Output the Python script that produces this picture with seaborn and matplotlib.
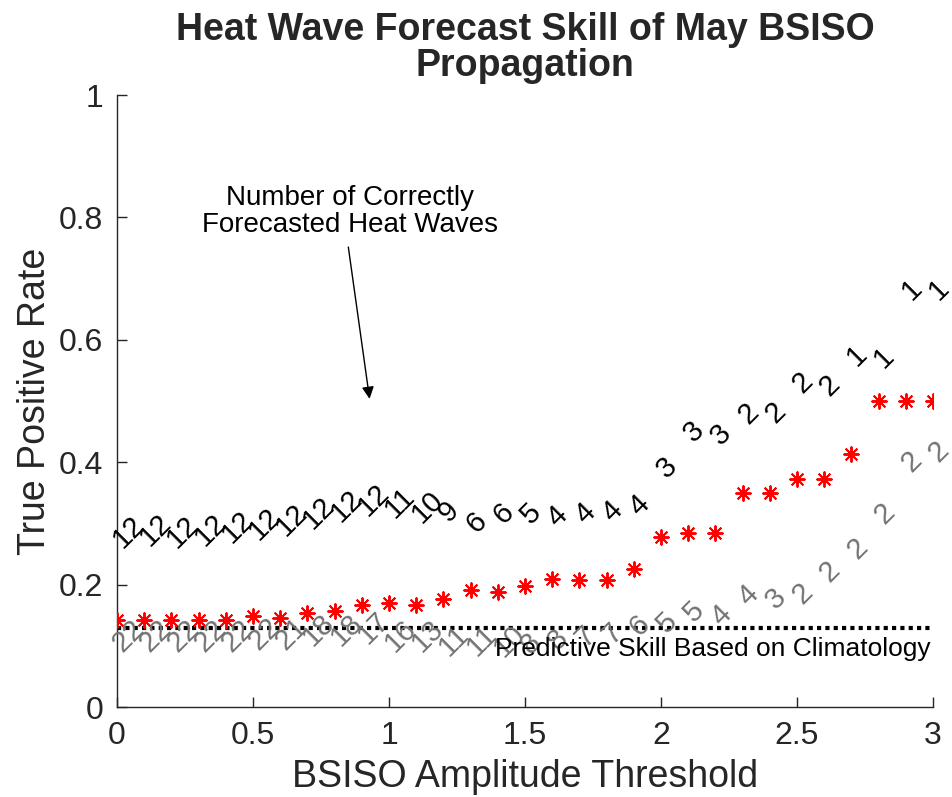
import matplotlib
matplotlib.use("Agg")
import matplotlib.pyplot as plt
import seaborn as sns
import pandas as pd

# ---- data ----
thresholds = [0.0, 0.1, 0.2, 0.3, 0.4, 0.5, 0.6, 0.7, 0.8, 0.9, 1.0,
              1.1, 1.2, 1.3, 1.4, 1.5, 1.6, 1.7, 1.8, 1.9, 2.0,
              2.1, 2.2, 2.3, 2.4, 2.5, 2.6, 2.7, 2.8, 2.9, 3.0]
tpr = [0.142, 0.142, 0.142, 0.142, 0.142, 0.149, 0.145, 0.154, 0.157, 0.167, 0.170,
       0.167, 0.177, 0.192, 0.188, 0.198, 0.209, 0.207, 0.207, 0.226, 0.278,
       0.284, 0.284, 0.349, 0.349, 0.373, 0.373, 0.413, 0.500, 0.500, 0.500]
n_correct = [12, 12, 12, 12, 12, 12, 12, 12, 12, 12, 11,
             10, 9, 6, 6, 5, 4, 4, 4, 4, 3,
             3, 3, 2, 2, 2, 2, 1, 1, 1, 1]
correct_label_y = [0.268, 0.270, 0.268, 0.270, 0.275, 0.281, 0.287, 0.298, 0.310, 0.320, 0.316,
                   0.309, 0.310, 0.292, 0.307, 0.307, 0.302, 0.307, 0.310, 0.319, 0.381,
                   0.440, 0.436, 0.470, 0.472, 0.520, 0.515, 0.565, 0.562, 0.672, 0.672]
n_other = [22, 22, 22, 22, 22, 22, 21, 18, 18, 17, 16,
           13, 11, 11, 10, 8, 8, 7, 7, 6, 5,
           5, 4, 4, 3, 2, 2, 2, 2, 2, 2]
other_label_y = [0.097, 0.097, 0.097, 0.097, 0.097, 0.100, 0.100, 0.108, 0.108, 0.110, 0.097,
                 0.097, 0.091, 0.091, 0.090, 0.095, 0.100, 0.105, 0.110, 0.123, 0.128,
                 0.147, 0.140, 0.173, 0.168, 0.176, 0.212, 0.250, 0.307, 0.392, 0.408]
climatology = 0.129
x_ticks = [0, 0.5, 1, 1.5, 2, 2.5, 3]
x_ticklabels = ["0", "0.5", "1", "1.5", "2", "2.5", "3"]
y_ticks = [0, 0.2, 0.4, 0.6, 0.8, 1.0]
y_ticklabels = ["0", "0.2", "0.4", "0.6", "0.8", "1"]

df = pd.DataFrame({"threshold": thresholds, "tpr": tpr})

sns.set_theme(style="white")
plt.rcParams["font.family"] = ["Liberation Sans", "DejaVu Sans"]

fig = plt.figure(figsize=(9.53, 7.97), dpi=100)
ax = fig.add_axes([0.1228, 0.1129, 0.8562, 0.7679])

# climatology line
ax.plot([thresholds[0], thresholds[-1]], [climatology, climatology], color="black",
        lw=3, linestyle=(0, (1, 1)), dash_capstyle="butt", zorder=2)

# red asterisks
sns.scatterplot(data=df, x="threshold", y="tpr", marker=(8, 2, 0), color="red",
                edgecolor="red", s=110, linewidth=1.4, ax=ax, zorder=3, legend=False)

# counts as rotated text
for xv, yv, n in zip(thresholds, correct_label_y, n_correct):
    ax.text(xv, yv, str(n), rotation=45, rotation_mode="anchor", ha="left",
            va="center", fontsize=21, color="black", zorder=4)
for xv, yv, n in zip(thresholds, other_label_y, n_other):
    ax.text(xv, yv, str(n), rotation=45, rotation_mode="anchor", ha="left",
            va="center", fontsize=21, color="#737373", zorder=4)

ax.text(1.39, 0.094, "Predictive Skill Based on Climatology", fontsize=19,
        ha="left", va="center", color="black", zorder=5)

ax.text(0.857, 0.809, "Number of Correctly\nForecasted Heat Waves", fontsize=20,
        ha="center", va="center", color="black", linespacing=1.05)
ax.annotate("", xy=(0.93, 0.499), xytext=(0.849, 0.756),
            arrowprops=dict(arrowstyle="-|>", color="black", lw=1, mutation_scale=18))

ax.set_xlim(0, 3)
ax.set_ylim(0, 1)
ax.set_xticks(x_ticks)
ax.set_xticklabels(x_ticklabels)
ax.set_yticks(y_ticks)
ax.set_yticklabels(y_ticklabels)
ax.tick_params(axis="both", direction="in", length=7, width=1, labelsize=23,
               color="#262626", labelcolor="#262626", pad=10, left=True, bottom=True)
for s in ["top", "right"]:
    ax.spines[s].set_visible(False)
for s in ["left", "bottom"]:
    ax.spines[s].set_color("#262626")
    ax.spines[s].set_linewidth(1)

ax.set_xlabel("BSISO Amplitude Threshold", fontsize=27, color="#262626", labelpad=6)
ax.set_ylabel("True Positive Rate", fontsize=27, color="#262626", labelpad=4)
ax.set_title("Heat Wave Forecast Skill of May BSISO\nPropagation", fontsize=27,
             fontweight="bold", pad=14, linespacing=1.0)

fig.savefig("out.png", dpi=100)
